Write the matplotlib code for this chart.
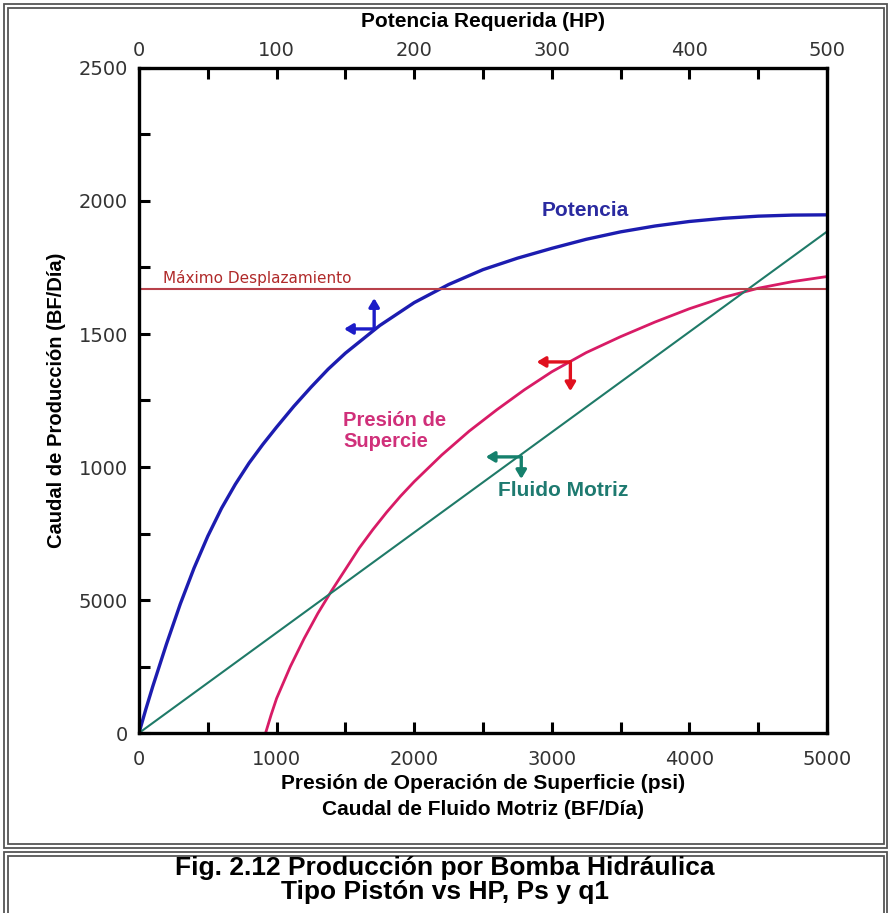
import matplotlib
matplotlib.use("Agg")
import matplotlib.pyplot as plt
from matplotlib.patches import Rectangle

# ---- data ----
pot_x = [0, 50, 100, 200, 300, 400, 500, 600, 700, 800, 900, 1000, 1125, 1250, 1375, 1500,
         1750, 2000, 2250, 2500, 2750, 3000, 3250, 3500, 3750, 4000, 4250, 4500, 4750, 5000]
pot_y = [0, 90, 175, 335, 485, 620, 740, 845, 935, 1015, 1085, 1150, 1228, 1300, 1368, 1428,
         1532, 1618, 1686, 1742, 1785, 1822, 1856, 1884, 1906, 1923, 1935, 1943, 1947, 1948]

pres_x = [920, 960, 1000, 1100, 1200, 1300, 1400, 1500, 1600, 1700, 1800, 1900, 2000, 2200,
          2400, 2600, 2800, 3000, 3250, 3500, 3750, 4000, 4250, 4500, 4750, 5000]
pres_y = [0, 68, 130, 250, 355, 450, 535, 615, 695, 765, 830, 890, 945, 1045,
          1135, 1215, 1290, 1358, 1430, 1490, 1545, 1595, 1638, 1672, 1697, 1716]

fluido_x = [0, 5000]
fluido_y = [0, 1885]

max_desp = 1670

bottom_ticks = [0, 1000, 2000, 3000, 4000, 5000]
left_ticks = [0, 500, 1000, 1500, 2000, 2500]
left_labels = ["0", "5000", "1000", "1500", "2000", "2500"]
top_ticks = [0, 100, 200, 300, 400, 500]

W, H = 890, 913
fig = plt.figure(figsize=(W / 100, H / 100), dpi=100)
fig.patch.set_facecolor("white")

ax = fig.add_axes([139 / W, 1 - 733 / H, (827 - 139) / W, (733 - 68) / H])
ax.set_xlim(0, 5000)
ax.set_ylim(0, 2500)

bold_font = ["Liberation Sans", "DejaVu Sans"]

ax.plot(pot_x, pot_y, color="#1c1cb0", lw=2.4, solid_capstyle="round")
ax.plot(pres_x, pres_y, color="#d81b66", lw=2.0)
ax.plot(fluido_x, fluido_y, color="#1f7a68", lw=1.5)
ax.axhline(max_desp, color="#b8404a", lw=1.5)

ax.text(175, max_desp + 12, "Máximo Desplazamiento", color="#b02a2a", fontsize=11,
        va="bottom", ha="left")
ax.text(3240, 1966, "Potencia", color="#2a2aa0", fontsize=15, fontweight="bold",
        ha="center", va="center", family=bold_font)
ax.text(1484, 1135, "Presión de\nSupercie", color="#d0307a", fontsize=14.5, fontweight="bold",
        ha="left", va="center", family=bold_font, linespacing=1.1)
ax.text(2611, 913, "Fluido Motriz", color="#1e7a70", fontsize=15, fontweight="bold",
        ha="left", va="center", family=bold_font)

# direction arrows
def corner_arrows(cx, cy, lx, dy, color):
    ap = dict(arrowstyle="-|>,head_length=0.5,head_width=0.3", color=color, lw=2.4,
              shrinkA=0, shrinkB=0)
    ax.annotate("", xy=(lx, cy), xytext=(cx, cy), arrowprops=ap)
    ax.annotate("", xy=(cx, dy), xytext=(cx, cy), arrowprops=ap)

corner_arrows(1709, 1519, 1490, 1635, "#1c1cc8")
corner_arrows(3135, 1395, 2890, 1285, "#e0101e")
corner_arrows(2778, 1038, 2520, 955, "#15806c")

# axes style
for s in ax.spines.values():
    s.set_linewidth(2.4)
    s.set_color("black")

ax.set_xticks(bottom_ticks)
ax.set_xticks(range(0, 5001, 500), minor=True)
ax.set_yticks(left_ticks)
ax.set_yticklabels(left_labels)
ax.set_yticks(range(0, 2501, 250), minor=True)
ax.tick_params(axis="both", which="both", direction="in", width=2.2, labelsize=14,
               labelcolor="#333333")
ax.tick_params(axis="both", which="major", length=8, pad=8)
ax.tick_params(axis="x", which="major", pad=12)
ax.tick_params(axis="both", which="minor", length=8)
ax.tick_params(axis="y", right=False)

ax.set_xlabel("Presión de Operación de Superficie (psi)\nCaudal de Fluido Motriz (BF/Día)",
              fontsize=15, fontweight="bold", family=bold_font, labelpad=4, linespacing=1.45)
ax.set_ylabel("Caudal de Producción (BF/Día)", fontsize=14.5, fontweight="bold",
              family=bold_font, labelpad=9)

top = ax.secondary_xaxis("top", functions=(lambda v: v / 10, lambda v: v * 10))
top.set_xticks(top_ticks)
top.set_xticks(range(0, 501, 50), minor=True)
top.tick_params(axis="x", which="both", direction="in", width=2.2, length=8,
                labelsize=14, labelcolor="#333333", pad=6)
top.set_xlabel("Potencia Requerida (HP)", fontsize=15, fontweight="bold", family=bold_font,
               labelpad=10)

# frames
def rect(x0, y0, x1, y1, lw=1.3, color="#555555"):
    fig.patches.append(Rectangle((x0 / W, 1 - y1 / H), (x1 - x0) / W, (y1 - y0) / H,
                                 transform=fig.transFigure, fill=False, lw=lw,
                                 edgecolor=color, zorder=0))

rect(4, 4, 887, 848)
rect(8, 8, 884, 844)
rect(4, 852, 887, 915)
rect(8, 856, 884, 915)

fig.text(445 / W, 1 - 880 / H, "Fig. 2.12 Producción por Bomba Hidráulica\nTipo Pistón vs HP, Ps y q1",
         ha="center", va="center", fontsize=19, fontweight="bold",
         family=bold_font, linespacing=1.05)

fig.savefig("out.png", dpi=100, facecolor="white")
